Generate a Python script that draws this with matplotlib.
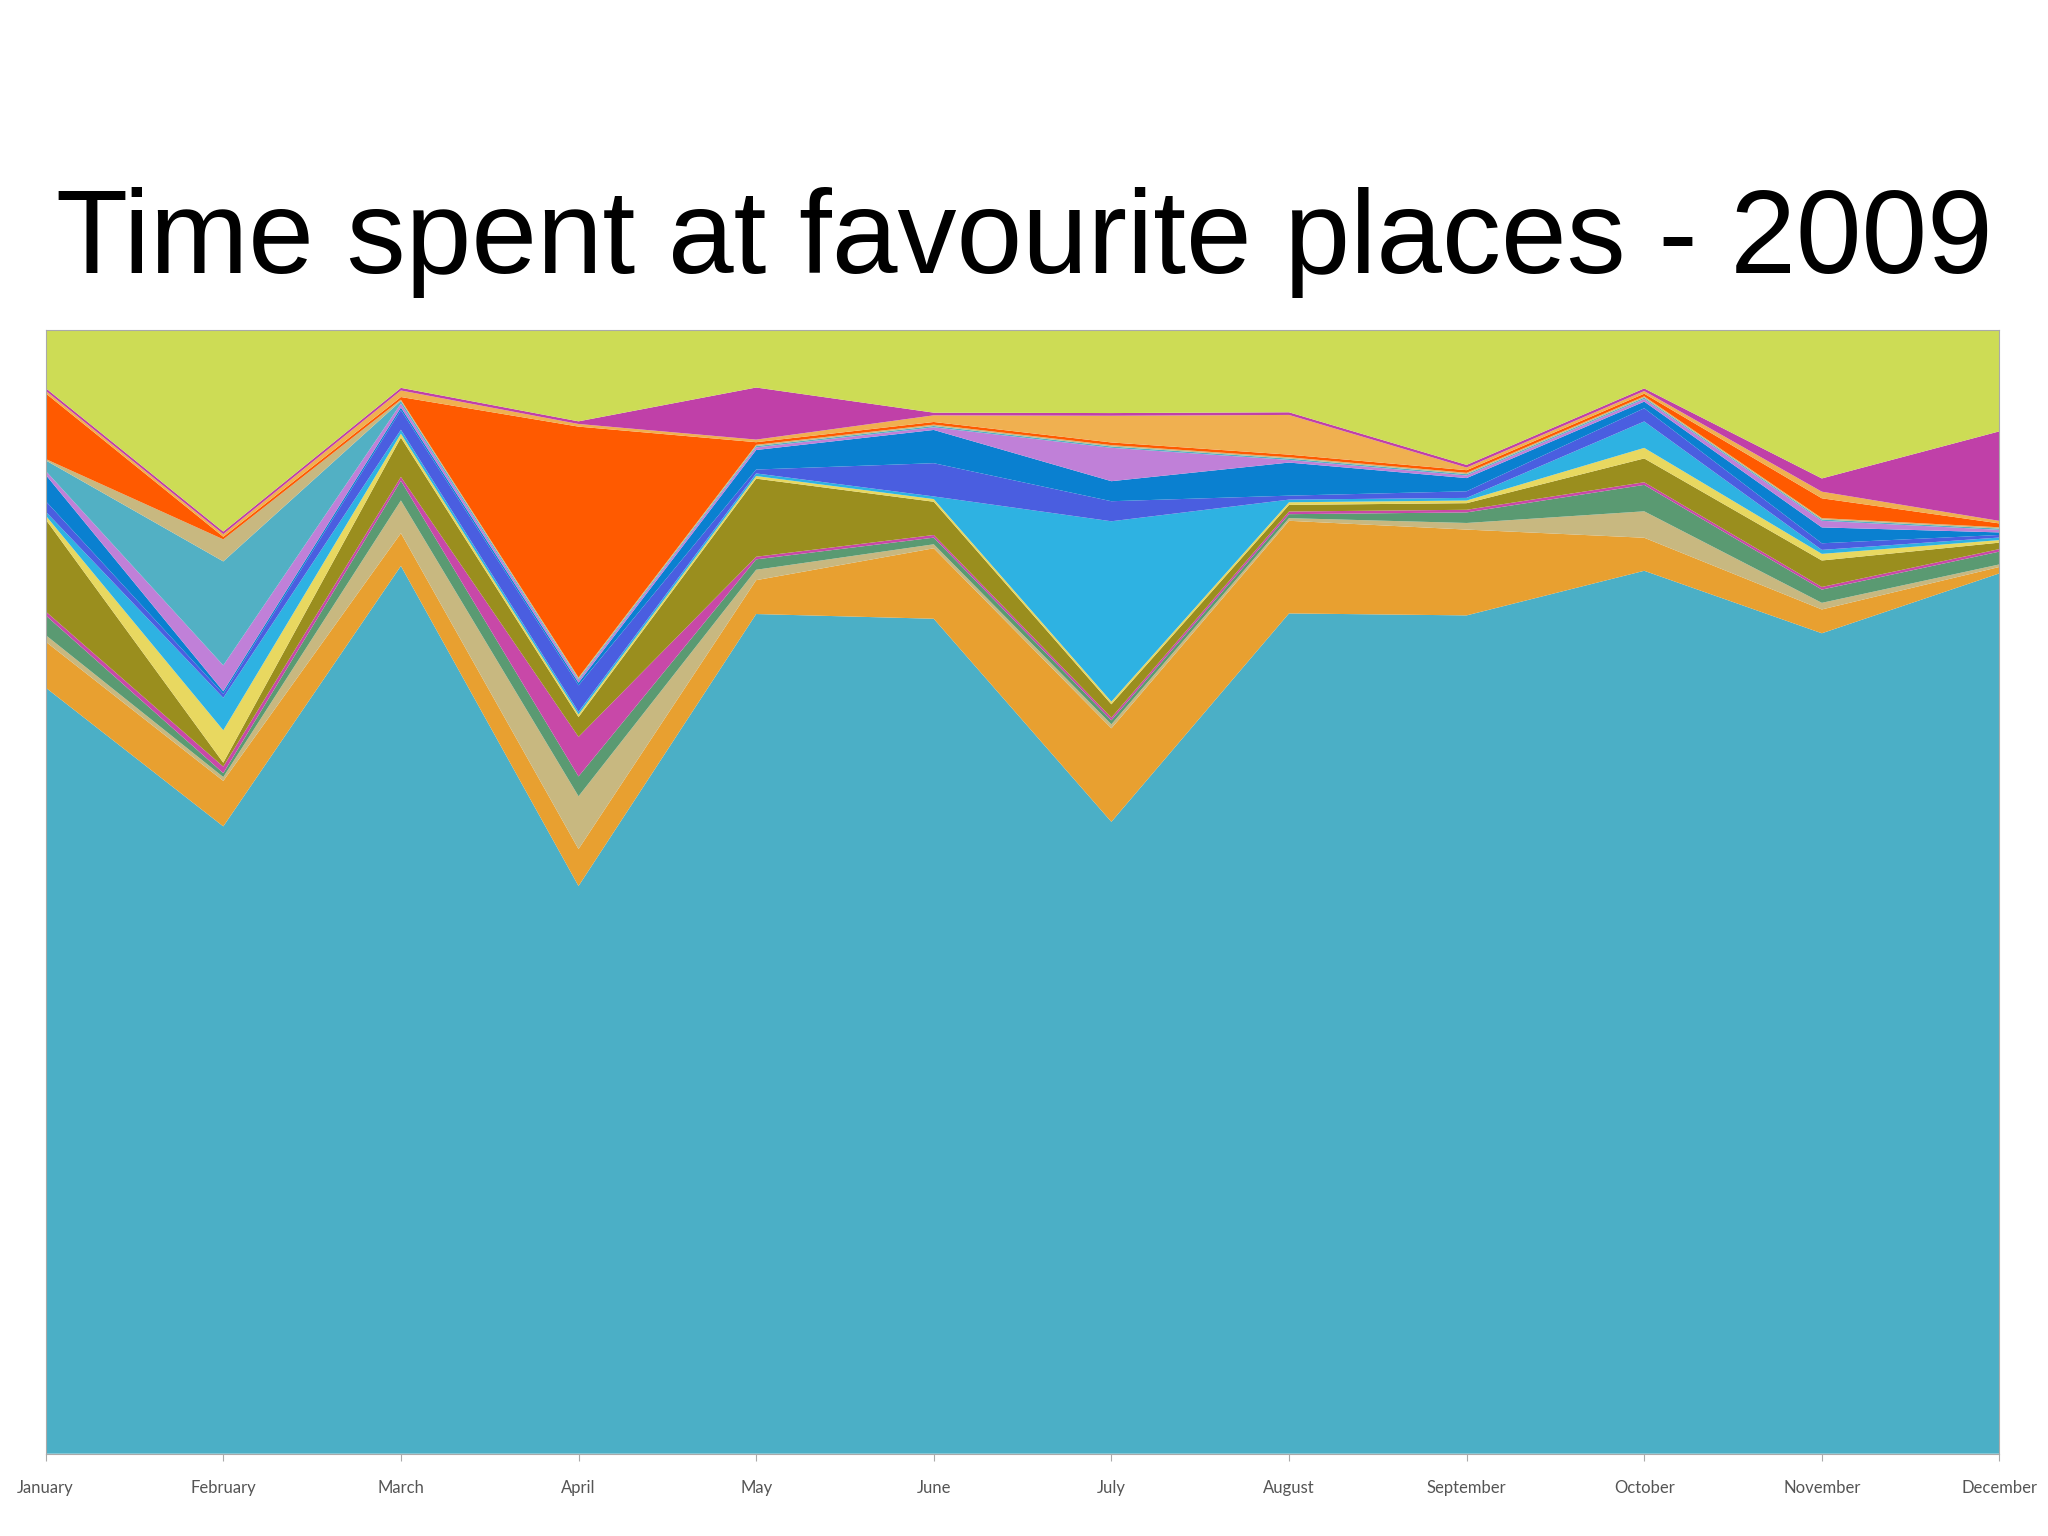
import matplotlib
matplotlib.use("Agg")
import matplotlib.pyplot as plt
import numpy as np

months = ["January","February","March","April","May","June","July","August",
          "September","October","November","December"]
teal      = [583,483,678,430,645,628,473,635,635,668,620,688]
orange    = [35,35,25,28,26,53,70,70,65,25,18,5]
tan       = [5,3,25,40,8,3,3,2,5,20,5,2]
sage      = [15,3,15,15,8,5,3,3,8,20,10,10]
pink      = [3,5,3,30,2,2,2,2,2,2,2,2]
olive     = [70,3,30,15,60,25,10,5,5,18,20,5]
yellow    = [3,25,3,2,2,2,2,2,2,8,5,2]
cyan      = [3,25,3,2,2,2,135,2,2,20,3,2]
royal     = [8,3,15,20,3,25,15,3,5,10,5,2]
darkblue  = [20,2,2,2,15,25,15,25,10,5,12,2]
lavender  = [3,20,3,2,2,2,25,2,2,2,5,2]
teal2     = [8,80,2,1,1,1,1,1,1,1,1,1]
tan2      = [1,17,1,1,1,1,1,1,1,1,1,1]
orangered = [50,2,2,190,2,2,2,2,2,2,15,3]
lightorange=[2,2,5,2,2,5,20,30,2,2,5,2]
magenta   = [2,2,2,2,40,2,2,2,2,2,10,70]
lime      = [44,155,44,69,44,62,62,62,102,44,112,79]

series = [teal,orange,tan,sage,pink,olive,yellow,cyan,royal,darkblue,lavender,teal2,tan2,
          orangered,lightorange,magenta,lime]
colors = ["#4BAFC6","#E8A030","#C8B880","#5A9A72","#C848A8","#9A8E1E","#E8D860",
          "#2EB2E2","#4A5EE0","#0A80D0","#C080D8","#52B0C4","#C8B880","#FF5A00","#F0B050",
          "#C040A8","#CDDC55"]

data = np.array(series, dtype=float)
data = data / data.sum(axis=0) * 100

fig = plt.figure(figsize=(20.48,15.36), dpi=100)
ax = fig.add_axes([0.0223,0.0536,0.954,0.7314])
x = np.arange(len(months))
ax.stackplot(x, data, colors=colors, linewidth=0)
ax.set_xlim(0, len(months)-1)
ax.set_ylim(0, 100)
ax.set_yticks([])
ax.set_xticks(x)
ax.set_xticklabels(months, fontsize=12, color="#555555", family="Lato")
ax.tick_params(axis='x', length=5, color="#aaaaaa", pad=14)
for s in ax.spines.values():
    s.set_color("#aaaaaa")
fig.text(0.5, 0.822, "Time spent at favourite places - 2009", ha="center", va="baseline",
         fontsize=85, family="Liberation Sans")
fig.savefig("out.png", dpi=100, facecolor="white")
